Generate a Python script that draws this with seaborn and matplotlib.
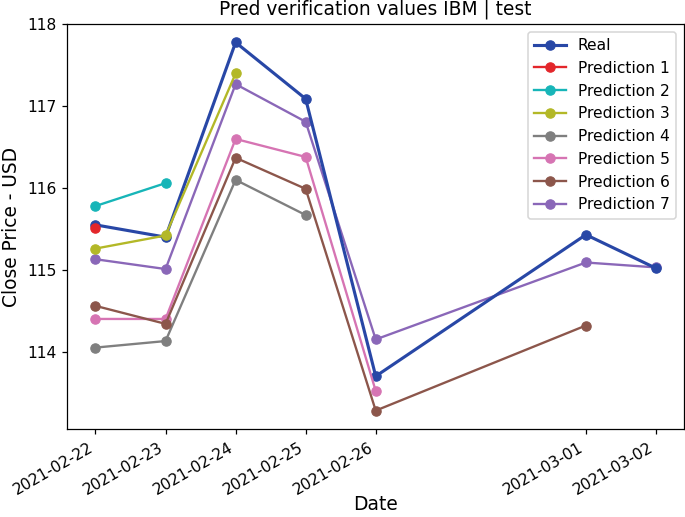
import pandas as pd
import numpy as np
import matplotlib
matplotlib.use('Agg')
import matplotlib.pyplot as plt
import matplotlib.dates as mdates
import seaborn as sns

# Data
dates = pd.to_datetime(['2021-02-22', '2021-02-23', '2021-02-24', '2021-02-25',
                        '2021-02-26', '2021-03-01', '2021-03-02'])
real = [115.55, 115.40, 117.78, 117.09, 113.70, 115.43, 115.02]
pred_1 = [115.51]
pred_2 = [115.78, 116.06]
pred_3 = [115.26, 115.42, 117.40]
pred_4 = [114.05, 114.13, 116.10, 115.67]
pred_5 = [114.40, 114.40, 116.60, 116.38, 113.52]
pred_6 = [114.56, 114.34, 116.37, 115.99, 113.28, 114.32]
pred_7 = [115.13, 115.01, 117.27, 116.81, 114.15, 115.09, 115.03]

preds = [pred_1, pred_2, pred_3, pred_4, pred_5, pred_6, pred_7]
pred_colors = ['#e3262b', '#17b5b8', '#b3b827', '#7f7f7f', '#d674b3', '#8c564b', '#8a67b8']
pred_zorder = [3, 3, 3, 3, 3, 3, 2]
real_color = '#2847a6'

# the reference is a crop of a slightly larger render, so a higher dpi
dpi = 112
fig, ax = plt.subplots(figsize=(685 / dpi, 517 / dpi), dpi=dpi)
fig.subplots_adjust(left=0.0985, right=0.9985, top=0.9536, bottom=0.1702)

sns.lineplot(x=dates, y=real, ax=ax, color=real_color, marker='o', markersize=6,
             markeredgecolor=real_color, linewidth=2, label='Real', zorder=2.5)
for i, p in enumerate(preds):
    sns.lineplot(x=dates[:len(p)], y=p, ax=ax, color=pred_colors[i], marker='o',
                 markersize=6, markeredgecolor=pred_colors[i], linewidth=1.5,
                 label='Prediction ' + str(i + 1), zorder=pred_zorder[i])

ax.set_xticks(dates)
ax.xaxis.set_major_formatter(mdates.DateFormatter('%Y-%m-%d'))
plt.setp(ax.get_xticklabels(), rotation=30, ha='right')

ax.set_title('Pred verification values IBM | test', fontsize=12)
ax.set_xlabel('Date', fontsize=12, labelpad=-2)
ax.set_ylabel('Close Price - USD', fontsize=12, labelpad=4)
ax.legend(loc='upper right')

fig.savefig('out.png', dpi=dpi)
